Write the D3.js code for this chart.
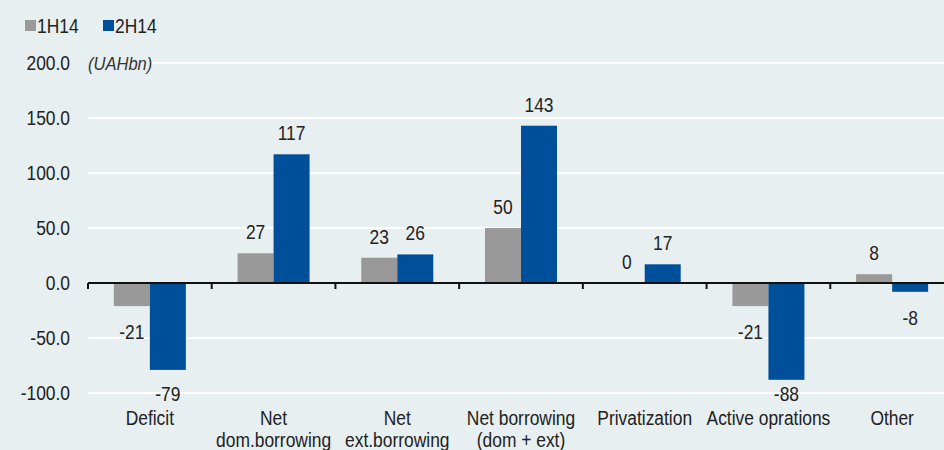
<!DOCTYPE html>
<html>
<head>
<meta charset="utf-8">
<script src="https://cdn.jsdelivr.net/npm/d3@7"></script>
<style>
  html, body { margin: 0; padding: 0; background: #e7eff0; }
  svg { display: block; font-family: "Liberation Sans", Arial, sans-serif; }
</style>
</head>
<body>
<svg id="chart" width="944" height="450"></svg>
<script>
// chart data
var categories = ["Deficit", "Net\ndom.borrowing", "Net\next.borrowing", "Net borrowing\n(dom + ext)", "Privatization", "Active oprations", "Other"];
var seriesNames = ["1H14", "2H14"];
var values1H14 = [-21, 27, 23, 50, 0, -21, 8];
var values2H14 = [-79, 117, 26, 143, 17, -88, -8];
var yTicks = [-100, -50, 0, 50, 100, 150, 200];

(function(){
    var W = 944, H = 450;
    var colors = {"1H14": "#999999", "2H14": "#004f9a"};
    var bg = "#e7eff0";
    var SX = 0.87; // squeeze text horizontally, the original font is condensed

    var svg = d3.select("#chart");

    //put text at x,y and squeeze it
    function place(sel, fx, fy){
        sel.attr("x", 0).attr("y", 0)
            .attr("transform", function(d, i){
                return "translate(" + fx(d, i) + "," + fy(d, i) + ") scale(" + SX + ",1)";
            });
        return sel;
    }

    //scales
    var x0 = d3.scaleBand().domain(categories).range([88, 954]).padding(0);
    var groupW = 72;
    var x1 = d3.scaleBand().domain(seriesNames).range([0, groupW]).padding(0);
    var y = d3.scaleLinear().domain([-100, 200]).range([393, 63]);

    //gridlines
    svg.append("g").selectAll("line")
        .data(yTicks.filter(function(d){ return d !== 0; }))
        .enter().append("line")
        .attr("x1", 88).attr("x2", W)
        .attr("y1", function(d){ return y(d); })
        .attr("y2", function(d){ return y(d); })
        .attr("stroke", "#ffffff").attr("stroke-width", 2);

    //y tick labels
    place(svg.append("g").selectAll("text")
        .data(yTicks)
        .enter().append("text"),
        function(){ return 70; }, function(d){ return y(d) + 7; })
        .attr("text-anchor", "end")
        .attr("font-size", 20)
        .attr("fill", "#222")
        .text(function(d){ return d.toFixed(1); });

    //unit label with background over gridline
    svg.append("rect").attr("x", 84).attr("y", y(200) - 10).attr("width", 68).attr("height", 20).attr("fill", bg);
    place(svg.append("text").datum(0), function(){ return 88; }, function(){ return y(200) + 7; })
        .attr("font-size", 19).attr("font-style", "italic").attr("fill", "#333")
        .text("(UAHbn)");

    //bars
    var rows = categories.map(function(c, i){
        return {cat: c, vals: [{s: "1H14", v: values1H14[i]}, {s: "2H14", v: values2H14[i]}]};
    });
    var off = (x0.bandwidth() - groupW) / 2;
    var groups = svg.append("g").selectAll("g")
        .data(rows)
        .enter().append("g")
        .attr("transform", function(d){ return "translate(" + (x0(d.cat) + off) + ",0)"; });

    groups.selectAll("rect")
        .data(function(d){ return d.vals; })
        .enter().append("rect")
        .attr("x", function(d){ return x1(d.s); })
        .attr("width", x1.bandwidth())
        .attr("y", function(d){ return y(Math.max(0, d.v)); })
        .attr("height", function(d){ return Math.abs(y(d.v) - y(0)); })
        .attr("fill", function(d){ return colors[d.s]; });

    //value labels, negative ones kept above the category labels
    place(groups.selectAll("text")
        .data(function(d){ return d.vals; })
        .enter().append("text"),
        function(d){ return x1(d.s) + x1.bandwidth() / 2; },
        function(d){ return d.v >= 0 ? y(d.v) - 14 : Math.min(y(d.v) + 33, 401); })
        .attr("text-anchor", "middle")
        .attr("font-size", 20)
        .attr("fill", "#222")
        .text(function(d){ return d.v; });

    //zero axis line and ticks
    svg.append("line")
        .attr("x1", 88).attr("x2", W)
        .attr("y1", y(0)).attr("y2", y(0))
        .attr("stroke", "#111").attr("stroke-width", 2);
    svg.append("g").selectAll("line")
        .data(categories)
        .enter().append("line")
        .attr("x1", function(d){ return x0(d); })
        .attr("x2", function(d){ return x0(d); })
        .attr("y1", y(0)).attr("y2", y(0) + 6)
        .attr("stroke", "#111").attr("stroke-width", 2);

    //category labels
    var catLabels = place(svg.append("g").selectAll("text")
        .data(categories)
        .enter().append("text"),
        function(d){ return x0(d) + x0.bandwidth() / 2; }, function(){ return 425; })
        .attr("text-anchor", "middle")
        .attr("font-size", 20)
        .attr("fill", "#222");
    catLabels.each(function(d){
        var t = d3.select(this);
        d.split("\n").forEach(function(l, i){
            t.append("tspan")
                .attr("x", 0)
                .attr("dy", i === 0 ? 0 : 22)
                .text(l);
        });
    });

    //legend
    var legend = svg.append("g");
    var lx = [25, 103];
    seriesNames.forEach(function(s, i){
        legend.append("rect")
            .attr("x", lx[i]).attr("y", 20).attr("width", 11).attr("height", 11)
            .attr("fill", colors[s]);
        place(legend.append("text").datum(s), function(){ return lx[i] + 12; }, function(){ return 33; })
            .attr("font-size", 20).attr("fill", "#222")
            .text(s);
    });
})();
</script>
</body>
</html>
